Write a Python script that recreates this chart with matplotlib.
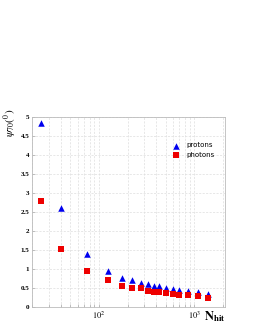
import matplotlib
matplotlib.use("Agg")
import matplotlib.pyplot as plt
from matplotlib.ticker import LogLocator, FixedLocator, NullFormatter

plt.rcParams['mathtext.fontset'] = 'stix'

n_hit = [25, 40, 75, 125, 175, 225, 275, 325, 375, 425, 500, 600, 700, 860, 1100, 1400]
protons = [4.85, 2.60, 1.39, 0.94, 0.75, 0.70, 0.63, 0.59, 0.55, 0.54, 0.50, 0.47, 0.45, 0.41, 0.38, 0.34]
photons = [2.78, 1.51, 0.94, 0.69, 0.55, 0.50, 0.48, 0.42, 0.39, 0.38, 0.35, 0.32, 0.31, 0.30, 0.27, 0.23]
y_ticks = [0, 0.5, 1, 1.5, 2, 2.5, 3, 3.5, 4, 4.5, 5]
y_tick_labels = ['0', '0.5', '1', '1.5', '2', '2.5', '3', '3.5', '4', '4.5', '5']

fig = plt.figure(figsize=(2.54, 3.30), dpi=100)
ax = fig.add_axes([0.126, 0.071, 0.760, 0.574])
ax.set_xscale('log')
ax.set_xlim(20, 2100)
ax.set_ylim(0, 5)

ax.scatter(n_hit, protons, marker='^', s=22, color='#0000ee', label='protons', zorder=3, linewidths=0)
ax.scatter(n_hit, photons, marker='s', s=22, color='#ee0000', label='photons', zorder=3, linewidths=0)

ax.yaxis.set_major_locator(FixedLocator(y_ticks))
ax.set_yticklabels(y_tick_labels, fontfamily='Liberation Serif', fontsize=5, fontweight='bold')
ax.xaxis.set_major_locator(FixedLocator([100, 1000]))
ax.set_xticklabels([r'$10^{2}$', r'$10^{3}$'], fontsize=6)
ax.xaxis.set_minor_locator(LogLocator(base=10, subs=range(2, 10), numticks=20))
ax.xaxis.set_minor_formatter(NullFormatter())

ax.grid(True, which='major', color='#dddddd', linestyle=(0, (3, 2)), linewidth=0.5)
ax.grid(True, which='minor', axis='x', color='#dddddd', linestyle=(0, (3, 2)), linewidth=0.5)
ax.set_axisbelow(True)

ax.tick_params(axis='both', which='both', direction='in', length=2, width=0.4, color='#999999', pad=2)
for s in ax.spines.values():
    s.set_color('#bbbbbb')
    s.set_linewidth(0.6)

leg = ax.legend(loc='upper right', bbox_to_anchor=(0.98, 0.90), frameon=False,
                prop={'family': 'DejaVu Sans', 'size': 5}, handletextpad=0.6,
                labelspacing=0.5, scatterpoints=1, markerscale=1.0)

fig.text(0.040, 0.672, r'$\psi_{70}(^{0})$', rotation=90, ha='center', va='top', fontsize=8)
fig.text(0.886, 0.030, r'$\mathbf{N}_{\mathbf{hit}}$', ha='right', va='baseline', fontsize=9)

fig.savefig('out.png', dpi=100)
